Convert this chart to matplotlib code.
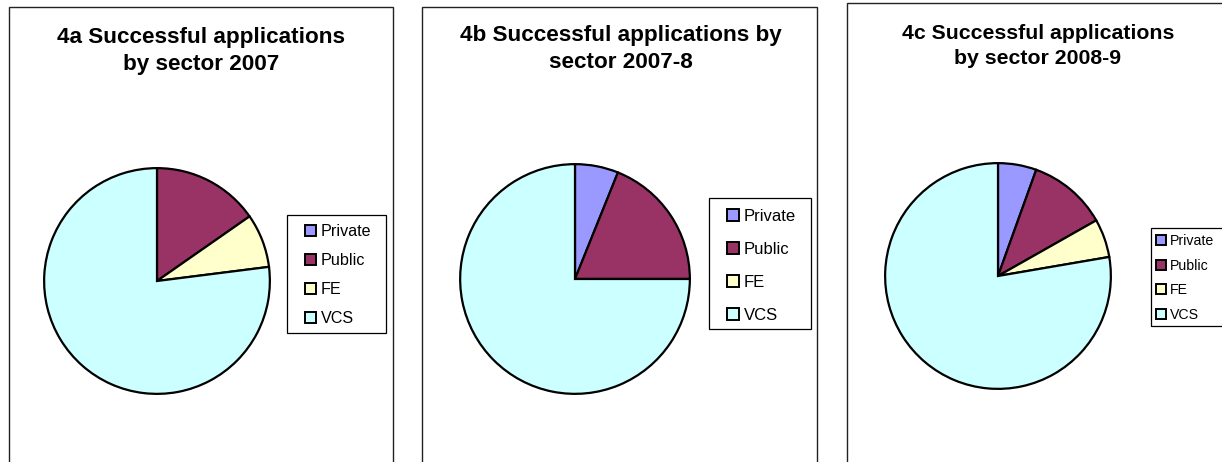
import matplotlib
matplotlib.use("Agg")
import matplotlib.pyplot as plt
from matplotlib.patches import Rectangle, Patch

plt.rcParams['font.family'] = ['Liberation Sans', 'DejaVu Sans']

sectors = ['Private', 'Public', 'FE', 'VCS']
colors = ['#9999FF', '#993366', '#FFFFCC', '#CCFFFF']

titles = ['4a Successful applications\nby sector 2007',
          '4b Successful applications by\nsector 2007-8',
          '4c Successful applications\nby sector 2008-9']

share_2007 = [0.0, 15.3, 7.7, 77.0]
share_2007_8 = [6.1, 18.9, 0.0, 75.0]
share_2008_9 = [5.5, 11.3, 5.5, 77.7]

W, H = 1222, 462
fig = plt.figure(figsize=(W / 100, H / 100), dpi=100)
fig.patch.set_facecolor('white')


def px_box(x0, y0, x1, y1):
    # pixel box (top-left origin) -> figure fraction [l, b, w, h]
    return [x0 / W, 1 - y1 / H, (x1 - x0) / W, (y1 - y0) / H]


def frame(x0, y0, x1, y1, lw=1.0, color='#222222'):
    l, b, w, h = px_box(x0, y0, x1, y1)
    fig.patches.append(Rectangle((l, b), w, h, transform=fig.transFigure,
                                 fill=False, edgecolor=color, linewidth=lw))


# panel frames (run off the bottom / right edge like the original)
frame(9, 7, 393, 480)
frame(422, 7, 817, 480)
frame(847, 3, 1240, 480)

panels = [
    dict(values=share_2007, cx=157, cy=281, r=114,
         title_xy=(201, 51), tsize=16.2,
         box=(287, 215, 386, 333), anchor=(305, 224), lsize=11.6, lspace=0.87),
    dict(values=share_2007_8, cx=575, cy=279, r=116,
         title_xy=(621, 49), tsize=16.2,
         box=(709, 198, 811, 329), anchor=(727, 209), lsize=12.0, lspace=1.08),
    dict(values=share_2008_9, cx=998, cy=276, r=114,
         title_xy=(1038, 46), tsize=15.3,
         box=(1151, 228, 1240, 326), anchor=(1156, 234), lsize=10.2, lspace=0.75),
]

for i, p in enumerate(panels):
    ax = fig.add_axes(px_box(p['cx'] - p['r'], p['cy'] - p['r'],
                             p['cx'] + p['r'], p['cy'] + p['r']))
    ax.pie(p['values'], colors=colors, startangle=90, counterclock=False,
           wedgeprops=dict(edgecolor='black', linewidth=1.6))
    ax.set_xlim(-1.01, 1.01)
    ax.set_ylim(-1.01, 1.01)
    ax.set_aspect('equal')
    ax.axis('off')

    tx, ty = p['title_xy']
    fig.text(tx / W, 1 - ty / H, titles[i], ha='center', va='center',
             fontsize=p['tsize'], fontweight='bold', linespacing=1.38)

    frame(*p['box'], lw=0.9, color='black')
    handles = [Patch(facecolor=c, edgecolor='black', linewidth=1.4) for c in colors]
    lx, ly = p['anchor']
    fig.legend(handles, sectors, loc='upper left',
               bbox_to_anchor=(lx / W, 1 - ly / H), borderaxespad=0,
               borderpad=0, fontsize=p['lsize'], frameon=False,
               handlelength=0.7, handleheight=0.7, handletextpad=0.3,
               labelspacing=p['lspace'])

fig.savefig('out.png', dpi=100, facecolor='white')
